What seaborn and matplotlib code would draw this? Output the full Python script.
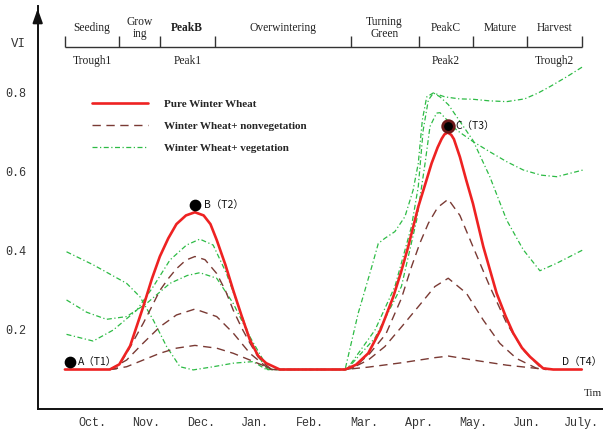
import matplotlib
matplotlib.use("Agg")
import matplotlib.pyplot as plt
import seaborn as sns
import pandas as pd
from matplotlib.lines import Line2D

# ---------------- data (x in half-month steps: 0 = mid Sep, 1 = Oct, ... 19 = July) -------------
month_labels = ["Oct.", "Nov.", "Dec.", "Jan.", "Feb.", "Mar.", "Apr.", "May.", "Jun.", "July."]
month_pos = [1, 3, 5, 7, 9, 11, 13, 15, 17, 19]
half_ticks = list(range(0, 20))

stage_bounds = [0, 2, 3.5, 5.5, 10.5, 13, 15, 17, 19]
stage_names = ["Seeding", "Grow\ning", "PeakB", "Overwintering", "Turning\nGreen",
               "PeakC", "Mature", "Harvest"]
sub_names = ["Trough1", "Peak1", "Peak2", "Trough2"]
sub_pos = [1, 4.5, 14, 18]

pure_x = [0, 1.65, 2.0, 2.4, 2.88, 3.2, 3.49, 3.8, 4.1, 4.45, 4.78, 5.1, 5.35, 5.58, 5.9, 6.19,
          6.5, 6.8, 7.1, 7.4, 7.9, 10.3, 10.7, 11.15, 11.6, 12.07, 12.35, 12.62, 12.99, 13.25,
          13.48, 13.7, 13.85, 13.95, 14.07, 14.2, 14.3, 14.52, 14.75, 15.0, 15.38, 15.87, 16.2,
          16.48, 16.8, 17.1, 17.58, 17.95, 19.0]
pure_y = [0.10, 0.10, 0.113, 0.16, 0.259, 0.33, 0.386, 0.432, 0.468, 0.49, 0.498, 0.49, 0.468,
          0.428, 0.365, 0.30, 0.235, 0.175, 0.135, 0.116, 0.10, 0.10, 0.112, 0.141, 0.20, 0.284,
          0.345, 0.411, 0.512, 0.57, 0.622, 0.662, 0.684, 0.695, 0.70, 0.694, 0.683, 0.638,
          0.58, 0.52, 0.411, 0.293, 0.235, 0.192, 0.155, 0.132, 0.103, 0.10, 0.10]

nonveg1_x = [1.65, 1.9, 2.27, 2.88, 3.2, 3.49, 3.8, 4.1, 4.45, 4.78, 5.15, 5.58, 5.9, 6.19, 6.5,
             6.8, 7.1, 7.4, 7.6, 10.3, 10.66, 11.2, 11.8, 12.37, 12.74, 13.05, 13.36, 13.7,
             14.09, 14.52, 15.0, 15.62, 16.24, 16.85, 17.46, 17.8]
nonveg1_y = [0.10, 0.102, 0.141, 0.217, 0.26, 0.30, 0.33, 0.355, 0.377, 0.386, 0.378, 0.343,
             0.30, 0.25, 0.205, 0.167, 0.132, 0.111, 0.10, 0.10, 0.107, 0.14, 0.19, 0.28, 0.36,
             0.42, 0.47, 0.51, 0.531, 0.49, 0.411, 0.31, 0.217, 0.149, 0.107, 0.10]

nonveg2_x = [1.65, 2.27, 2.88, 3.49, 4.1, 4.78, 5.58, 6.19, 6.8, 7.4, 7.6, 10.3, 10.5, 11.15,
             11.76, 12.4, 12.99, 13.6, 14.09, 14.76, 15.38, 15.99, 16.6, 17.34, 17.7]
nonveg2_y = [0.10, 0.124, 0.167, 0.208, 0.238, 0.253, 0.234, 0.192, 0.141, 0.107, 0.10, 0.10,
             0.102, 0.124, 0.158, 0.21, 0.259, 0.31, 0.331, 0.293, 0.225, 0.166, 0.128, 0.103, 0.10]

nonveg3_x = [1.65, 2.27, 2.88, 3.49, 4.1, 4.78, 5.58, 6.19, 6.8, 7.4, 7.6, 10.3, 11.15, 12.37,
             13.6, 14.1, 15.0, 16.24, 17.46, 17.7]
nonveg3_y = [0.10, 0.107, 0.124, 0.141, 0.154, 0.161, 0.154, 0.141, 0.124, 0.107, 0.10, 0.10,
             0.106, 0.117, 0.13, 0.134, 0.124, 0.111, 0.102, 0.10]

veg1_x = [0.06, 1.04, 2.27, 2.76, 3.25, 3.74, 4.23, 4.72, 5.45, 6.19, 6.92, 7.4, 10.3, 10.78,
          11.28, 11.52, 11.76, 12.13, 12.5, 12.8, 12.99, 13.14, 13.3, 13.54, 13.97, 14.5, 15.0,
          15.6, 16.24, 16.9, 17.4, 17.83, 18.45, 19.05]
veg1_y = [0.398, 0.365, 0.318, 0.284, 0.225, 0.158, 0.107, 0.099, 0.107, 0.116, 0.12, 0.10,
          0.10, 0.242, 0.36, 0.419, 0.432, 0.449, 0.487, 0.554, 0.622, 0.732, 0.79, 0.80, 0.79,
          0.785, 0.784, 0.78, 0.778, 0.785, 0.80, 0.816, 0.841, 0.867]

veg2_x = [0.06, 0.8, 1.53, 2.27, 3.0, 3.86, 4.5, 4.96, 5.58, 6.19, 6.8, 7.29, 7.45, 10.36,
          11.4, 12.13, 12.74, 12.99, 13.17, 13.36, 13.55, 13.79, 14.1, 14.4, 14.7, 15.0, 15.62,
          16.24, 16.85, 17.46, 18.08, 19.05]
veg2_y = [0.276, 0.245, 0.227, 0.234, 0.267, 0.318, 0.338, 0.345, 0.331, 0.267, 0.183, 0.124,
          0.10, 0.10, 0.20, 0.31, 0.462, 0.563, 0.706, 0.782, 0.80, 0.79, 0.77, 0.74, 0.71,
          0.68, 0.588, 0.478, 0.403, 0.35, 0.369, 0.403]

veg3_x = [0.06, 1.04, 1.78, 2.64, 3.25, 3.86, 4.47, 4.96, 5.45, 5.94, 6.43, 6.92, 7.35, 7.45,
          10.36, 11.4, 12.37, 12.93, 13.24, 13.42, 13.66, 13.79, 14.4, 15.0, 15.62, 16.24,
          16.85, 17.5, 18.08, 19.05]
veg3_y = [0.189, 0.172, 0.20, 0.25, 0.31, 0.377, 0.415, 0.43, 0.415, 0.343, 0.25, 0.158,
          0.107, 0.10, 0.10, 0.18, 0.31, 0.478, 0.622, 0.715, 0.749, 0.75, 0.706, 0.677, 0.651,
          0.626, 0.605, 0.592, 0.588, 0.605]

point_names = ["A（T1）", "B（T2）", "C（T3）", "D（T4）"]
point_x = [0.18, 4.78, 14.07]
point_y = [0.119, 0.516, 0.717]
label_x = [0.48, 5.11, 14.34, 18.27]
label_y = [0.119, 0.516, 0.717, 0.119]

legend_labels = ["Pure Winter Wheat", "Winter Wheat+ nonvegetation", "Winter Wheat+ vegetation"]

# ---------------- style ----------------
sns.set_theme(style="white")
plt.rcParams["font.family"] = ["Liberation Serif", "DejaVu Sans"]

RED = "#ee2222"
BROWN = "#7a3a34"
GREEN = "#2dbb45"
AXC = "#111111"

fig = plt.figure(figsize=(6.03, 4.30), dpi=100)
ax = fig.add_axes([0.0625, 0.0488, 0.9375, 0.9372])
ax.set_xlim(-1, 19.78)
ax.set_ylim(0, 1.02)

brown_ls = (0, (6, 4))
green_ls = (0, (4, 2, 1, 2))

for xs, ys in [(veg1_x, veg1_y), (veg2_x, veg2_y), (veg3_x, veg3_y)]:
    sns.lineplot(x=xs, y=ys, ax=ax, color=GREEN, linewidth=0.9, linestyle=green_ls,
                 estimator=None, sort=False)
for xs, ys in [(nonveg1_x, nonveg1_y), (nonveg2_x, nonveg2_y), (nonveg3_x, nonveg3_y)]:
    sns.lineplot(x=xs, y=ys, ax=ax, color=BROWN, linewidth=1.0, linestyle=brown_ls,
                 estimator=None, sort=False)
sns.lineplot(x=pure_x, y=pure_y, ax=ax, color=RED, linewidth=1.9, estimator=None, sort=False)

# key points
ax.scatter(point_x[:2], point_y[:2], s=55, color="black", zorder=6)
ax.scatter(point_x[2:3], point_y[2:3], s=70, color="black", edgecolor="#6a1818",
           linewidth=2, zorder=6)
for nm, lx, ly in zip(point_names, label_x, label_y):
    ax.text(lx, ly, nm, ha="left", va="center", fontsize=7.5, color="#111111",
            family=["Noto Sans CJK SC", "DejaVu Sans"], zorder=7)

# stage header
ax.hlines(0.916, stage_bounds[0], stage_bounds[-1], color="#333333", linewidth=1.0)
ax.vlines(stage_bounds, 0.916, 0.945, color="#333333", linewidth=1.0)
for i, nm in enumerate(stage_names):
    cx = (stage_bounds[i] + stage_bounds[i + 1]) / 2
    ax.text(cx, 0.964, nm, ha="center", va="center", fontsize=8.3, color="#222222",
            fontweight="bold" if nm == "PeakB" else "normal", linespacing=1.0)
for nm, sx in zip(sub_names, sub_pos):
    ax.text(sx, 0.882, nm, ha="center", va="center", fontsize=8.3, color="#222222")

# axes, spines, ticks
for s in ["top", "right"]:
    ax.spines[s].set_visible(False)
for s in ["left", "bottom"]:
    ax.spines[s].set_color(AXC)
    ax.spines[s].set_linewidth(1.4)

ax.set_yticks([0.2, 0.4, 0.6, 0.8])
ax.set_yticklabels(["0.2", "0.4", "0.6", "0.8"])
ax.set_yticks([0.1, 0.3, 0.5, 0.7, 0.9], minor=True)
ax.set_xticks(month_pos)
ax.set_xticklabels(month_labels)
ax.set_xticks([t for t in half_ticks if t not in month_pos], minor=True)
ax.tick_params(axis="both", which="both", direction="in", length=6, width=1.0, color=AXC)
ax.tick_params(axis="y", which="both", pad=8, labelsize=8.5, labelcolor="#333333")
ax.tick_params(axis="x", which="both", pad=6, labelsize=8.5, labelcolor="#333333")
for lab in ax.get_xticklabels() + ax.get_yticklabels():
    lab.set_family(["Liberation Mono", "DejaVu Sans Mono"])
ax.set_xlabel("")
ax.set_ylabel("")

# axis arrow at top of y
ax.annotate("", xy=(0, 1.0), xytext=(0, 0.97), xycoords="axes fraction",
            arrowprops=dict(arrowstyle="-|>,head_width=0.25,head_length=0.7", color=AXC,
                            lw=1.4), annotation_clip=False)

fig.text(18 / 603, 1 - 44 / 430, "VI", ha="center", va="center", fontsize=9,
         family=["Liberation Mono"], color="#333333")
fig.text(0.998, 1 - 394 / 430, "Tim", ha="right", va="center", fontsize=8, color="#222222")

# legend
handles = [Line2D([], [], color=RED, lw=1.9),
           Line2D([], [], color=BROWN, lw=1.0, linestyle=brown_ls),
           Line2D([], [], color=GREEN, lw=0.9, linestyle=green_ls)]
leg = fig.legend(handles, legend_labels, loc="upper left",
                 bbox_to_anchor=(92 / 603, 1 - 99 / 430), frameon=False,
                 prop=dict(family="Liberation Serif", weight="bold", size=8),
                 handlelength=5.0, handletextpad=1.45, labelspacing=1.1,
                 borderpad=0, borderaxespad=0)

fig.savefig("out.png", dpi=100)
